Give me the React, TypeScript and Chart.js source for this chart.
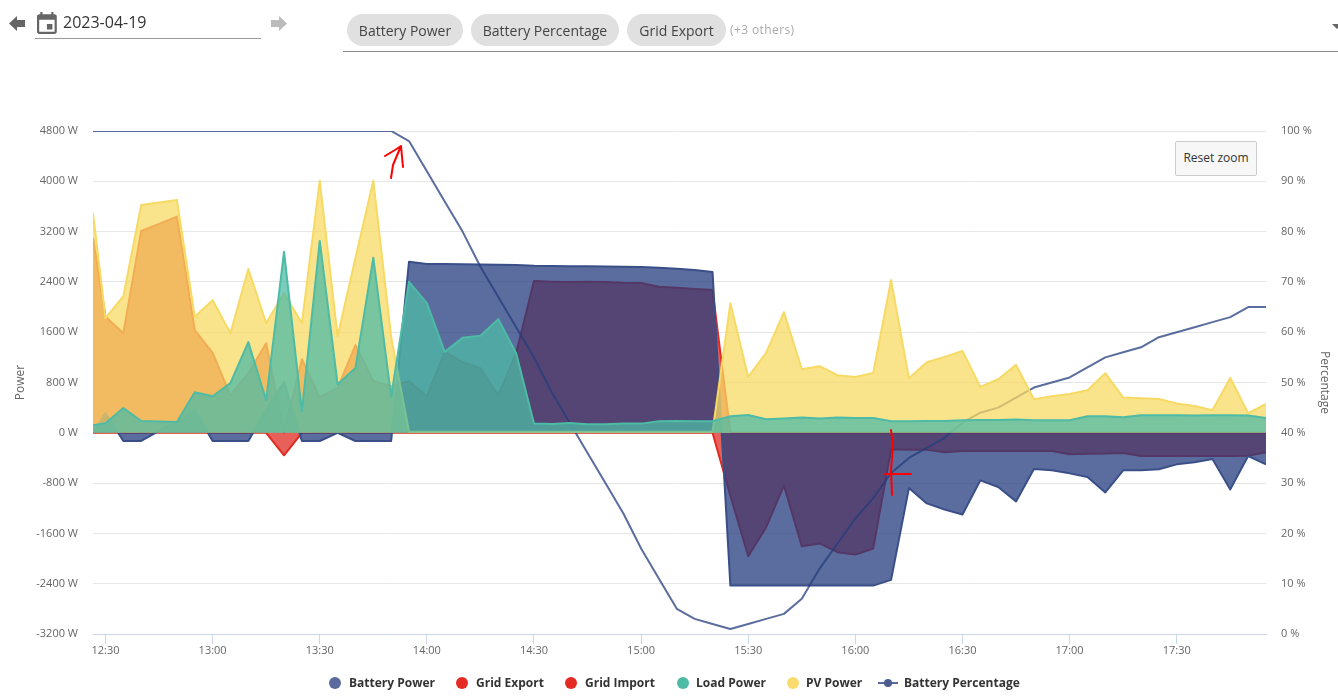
import { useEffect, useRef } from 'react';
import Chart from 'chart.js/auto';

const FONT = '"Open Sans", sans-serif';

// one row per hour, first row starts with the partial sample before 12:30
const times = [
  '12:26:30', '12:30', '12:35', '12:40', '12:45', '12:50', '12:55',
  '13:00', '13:05', '13:10', '13:15', '13:20', '13:25', '13:30', '13:35', '13:40', '13:45', '13:50', '13:55',
  '14:00', '14:05', '14:10', '14:15', '14:20', '14:25', '14:30', '14:35', '14:40', '14:45', '14:50', '14:55',
  '15:00', '15:05', '15:10', '15:15', '15:20', '15:25', '15:30', '15:35', '15:40', '15:45', '15:50', '15:55',
  '16:00', '16:05', '16:10', '16:15', '16:20', '16:25', '16:30', '16:35', '16:40', '16:45', '16:50', '16:55',
  '17:00', '17:05', '17:10', '17:15', '17:20', '17:25', '17:30', '17:35', '17:40', '17:45', '17:50', '17:55'
];

const batteryPower = [
  0, 310, -130, -130, 30, 172, 358,
  -130, -130, -130, 358, 810, -130, -130, 0, -130, -130, -130, 2721,
  2684, 2684, 2680, 2678, 2672, 2668, 2657, 2654, 2650, 2647, 2643, 2640,
  2636, 2625, 2610, 2589, 2557, -2430, -2430, -2430, -2430, -2430, -2430, -2430,
  -2430, -2430, -2339, -879, -1123, -1219, -1298, -757, -863, -1091, -577, -597,
  -645, -704, -948, -597, -597, -581, -502, -470, -417, -900, -370, -502
];

const gridExport = [
  3098, 1845, 1585, 3210, 3324, 3438, 1633,
  1271, 597, 948, 1426, 0, 1170, 570, 709, 1394, 825, 741, 820,
  581, 1287, 1128, 1027, 597, 1266, 2413, 2402, 2397, 2402, 2398, 2386,
  2381, 2323, 2307, 2286, 2270, 0, 0, 0, 0, 0, 0, 0,
  0, 0, 0, 0, 0, 0, 0, 0, 0, 0, 0, 0,
  0, 0, 0, 0, 0, 0, 0, 0, 0, 0, 0, 0
];

const gridImport = [
  0, 0, 0, 0, 0, 0, 0,
  0, 0, 0, 0, -358, 0, 0, 0, 0, 0, 0, 0,
  0, 0, 0, 0, 0, 0, 0, 0, 0, 0, 0, 0,
  0, 0, 0, 0, 0, -1000, -1962, -1505, -836, -1803, -1760, -1899,
  -1935, -1840, -263, -268, -268, -311, -290, -290, -290, -290, -290, -290,
  -340, -335, -330, -322, -370, -370, -370, -370, -370, -370, -365, -311
];

const loadPower = [
  119, 151, 395, 188, 180, 172, 645,
  581, 793, 1442, 518, 2880, 342, 3051, 773, 1032, 2785, 570, 2402,
  2063, 1287, 1510, 1542, 1808, 1266, 146, 140, 156, 135, 135, 146,
  146, 183, 187, 183, 183, 263, 284, 215, 226, 242, 226, 242,
  237, 237, 183, 183, 188, 188, 199, 205, 205, 210, 199, 199,
  199, 263, 263, 247, 279, 279, 279, 274, 279, 279, 274, 236
];

const pvPower = [
  3497, 1824, 2174, 3624, 3664, 3704, 1845,
  2110, 1585, 2604, 1744, 2222, 1744, 4011, 1537, 2780, 4011, 1526, 15,
  15, 15, 15, 15, 15, 15, 15, 15, 15, 15, 15, 15,
  15, 15, 15, 15, 15, 2062, 889, 1271, 1920, 1011, 1059, 916,
  889, 953, 2429, 868, 1123, 1207, 1303, 730, 852, 1080, 534, 581,
  618, 677, 948, 560, 550, 539, 465, 427, 358, 873, 311, 459
];

const batteryPercentage = [
  100, 100, 100, 100, 100, 100, 100,
  100, 100, 100, 100, 100, 100, 100, 100, 100, 100, 100, 98,
  92, 86, 80, 73, 67, 61, 55, 48, 42, 36, 30, 24,
  17, 11, 5, 3, 2, 1, 2, 3, 4, 7, 13, 18,
  23, 27, 32, 35, 37, 39, 42, 44, 45, 47, 49, 50,
  51, 53, 55, 56, 57, 59, 60, 61, 62, 63, 65, 65
];

const legendItems = [
  { name: 'Battery Power', color: '#5a6a9c', marker: 335, text: 349 },
  { name: 'Grid Export', color: '#e32b22', marker: 462, text: 476 },
  { name: 'Grid Import', color: '#e32b22', marker: 571, text: 585 },
  { name: 'Load Power', color: '#4dbba5', marker: 683, text: 696 },
  { name: 'PV Power', color: '#f9dc6d', marker: 793, text: 806 }
];

const chips = [
  { name: 'Battery Power', left: 347, width: 116 },
  { name: 'Battery Percentage', left: 471, width: 148 },
  { name: 'Grid Export', left: 627, width: 99 }
];

const toMinutes = (t: string) => {
  const [h, m, s] = t.split(':').map(Number);
  return h * 60 + m + (s || 0) / 60;
};

const pairs = (values: number[]) => values.map((y, i) => ({ x: toMinutes(times[i]), y }));

const clock = (v: any) => {
  const m = Number(v);
  return `${Math.floor(m / 60)}:${String(m % 60).padStart(2, '0')}`;
};

const area = (label: string, values: number[], line: string, fill: string, order: number) => ({
  label,
  data: pairs(values),
  borderColor: line,
  backgroundColor: fill,
  borderWidth: 2,
  borderJoinStyle: 'round',
  pointRadius: 0,
  tension: 0,
  fill: 'origin',
  order
});

export default function App() {
  const canvasRef = useRef<HTMLCanvasElement | null>(null);

  useEffect(() => {
    if (!canvasRef.current) return;
    const tickFont = { family: FONT, size: 11 };
    const titleFont = { family: FONT, size: 12 };

    const chart = new Chart(canvasRef.current, {
      type: 'line',
      data: {
        datasets: [
          area('Battery Power', batteryPower, 'rgb(58,79,136)', 'rgba(36,60,126,.75)', 4),
          area('Grid Export', gridExport, 'rgb(224,43,35)', 'rgba(224,43,35,.75)', 5),
          area('Grid Import', gridImport, 'rgb(224,43,35)', 'rgba(224,43,35,.75)', 5),
          area('Load Power', loadPower, 'rgb(77,187,165)', 'rgba(77,187,165,.75)', 1),
          area('PV Power', pvPower, 'rgb(247,218,100)', 'rgba(247,218,100,.75)', 2),
          {
            label: 'Battery Percentage',
            data: pairs(batteryPercentage),
            yAxisID: 'yPct',
            borderColor: 'rgba(36,60,126,.75)',
            borderWidth: 2,
            borderJoinStyle: 'round',
            pointRadius: 0,
            tension: 0,
            fill: false,
            order: 3
          }
        ]
      },
      options: {
        animation: false,
        responsive: false,
        layout: { padding: { top: 131, left: 0, right: 0, bottom: 0 } },
        plugins: { legend: { display: false }, tooltip: { enabled: false } },
        scales: {
          x: {
            type: 'linear',
            min: toMinutes(times[0]),
            max: toMinutes(times[times.length - 1]),
            afterFit: (s: any) => { s.height = 66; },
            border: { color: '#ccd6eb' },
            grid: { drawOnChartArea: false, color: '#ccd6eb', tickLength: 10 },
            ticks: {
              stepSize: 30,
              includeBounds: false,
              autoSkip: false,
              maxRotation: 0,
              padding: 0,
              color: '#666',
              font: tickFont,
              callback: clock
            }
          },
          y: {
            min: -3200,
            max: 4800,
            afterFit: (s: any) => { s.width = 93; },
            border: { display: false },
            grid: { color: '#e6e6e6', drawTicks: false },
            title: { display: true, text: 'Power', color: '#666', font: titleFont, padding: { top: 13, bottom: 0 } },
            ticks: {
              stepSize: 800,
              padding: 15,
              color: '#666',
              font: tickFont,
              callback: (v: any) => `${v} W`
            }
          },
          yPct: {
            position: 'right',
            min: 0,
            max: 100,
            afterFit: (s: any) => { s.width = 72; },
            border: { display: false },
            grid: { display: false, drawTicks: false },
            title: { display: true, text: 'Percentage', color: '#666', font: titleFont, padding: { top: 6, bottom: 0 } },
            ticks: {
              stepSize: 10,
              padding: 15,
              color: '#666',
              font: tickFont,
              callback: (v: any) => `${v} %`
            }
          }
        }
      }
    });

    return () => chart.destroy();
  }, []);

  const abs = { position: 'absolute' } as const;

  return (
    <div style={{ ...abs, left: 0, top: 0, width: 1338, height: 700, overflow: 'hidden', background: '#fff', fontFamily: FONT }}>
      <canvas ref={canvasRef} width={1338} height={700} style={{ ...abs, left: 0, top: 0 }} />

      {/* date picker */}
      <svg width={300} height={50} style={{ ...abs, left: 0, top: 0 }}>
        <path d="M9 23.5 L17 16 V20 H25 V27 H17 V31 Z" fill="#666" />
        <path d="M271 20 H279 V16 L287 23.5 L279 31 V27 H271 Z" fill="#bbb" />
        <g transform="translate(33.7 10.9) scale(1.1)" fill="#666">
          <path d="M17 12h-5v5h5v-5zM16 1v2H8V1H6v2H5c-1.11 0-1.99.9-1.99 2L3 19c0 1.1.89 2 2 2h14c1.1 0 2-.9 2-2V5c0-1.1-.9-2-2-2h-1V1h-2zm3 18H5V8h14v11z" />
        </g>
      </svg>
      <div style={{ ...abs, left: 63, top: 10, fontSize: 16, lineHeight: '24px', color: '#333' }}>2023-04-19</div>
      <div style={{ ...abs, left: 35, top: 38, width: 226, height: 1, background: '#999' }} />

      {/* series picker */}
      {chips.map((c) => (
        <div
          key={c.name}
          style={{
            ...abs,
            left: c.left,
            top: 14,
            width: c.width,
            height: 32,
            borderRadius: 16,
            background: '#e0e0e0',
            color: '#444',
            fontSize: 14,
            lineHeight: '34px',
            textAlign: 'center'
          }}
        >
          {c.name}
        </div>
      ))}
      <div style={{ ...abs, left: 730, top: 21, fontSize: 12, lineHeight: '18px', letterSpacing: 0.4, color: '#aaa' }}>(+3 others)</div>
      <div style={{ ...abs, left: 343, top: 51, width: 995, height: 1, background: '#888' }} />
      <svg width={10} height={6} style={{ ...abs, left: 1332, top: 24 }}>
        <path d="M0 0 H10 L5 5 Z" fill="#666" />
      </svg>

      {/* Highcharts style zoom button */}
      <div
        style={{
          ...abs,
          left: 1175,
          top: 141,
          width: 80,
          height: 33,
          border: '1px solid #ccc',
          borderRadius: 2,
          background: '#f7f7f7',
          color: '#333',
          fontSize: 12,
          lineHeight: '31px',
          textAlign: 'center'
        }}
      >
        Reset zoom
      </div>

      {/* legend */}
      {legendItems.map((l) => (
        <div key={l.name}>
          <div style={{ ...abs, left: l.marker - 6, top: 677, width: 12, height: 12, borderRadius: 6, background: l.color }} />
          <div style={{ ...abs, left: l.text, top: 674, fontSize: 12, fontWeight: 700, lineHeight: '18px', color: '#333' }}>{l.name}</div>
        </div>
      ))}
      <svg width={20} height={10} style={{ ...abs, left: 878, top: 678 }}>
        <line x1={0} y1={5} x2={20} y2={5} stroke="#5a6a9c" strokeWidth={2} />
        <circle cx={10} cy={5} r={4} fill="#4a5b90" />
      </svg>
      <div style={{ ...abs, left: 904, top: 674, fontSize: 12, fontWeight: 700, lineHeight: '18px', color: '#333' }}>Battery Percentage</div>

      {/* red pen marks on the screenshot */}
      <svg width={1338} height={700} style={{ ...abs, left: 0, top: 0, pointerEvents: 'none' }}>
        <g fill="none" stroke="#f00" strokeWidth={2} strokeLinecap="round" strokeLinejoin="round">
          <path d="M391 178 L393 165 L401 146 M385 156 L395 150 L401 146 L403 167" />
          <path d="M891 430 L893 446 L891 470 L892 495 M885 474 L911 474" />
        </g>
      </svg>
    </div>
  );
}
